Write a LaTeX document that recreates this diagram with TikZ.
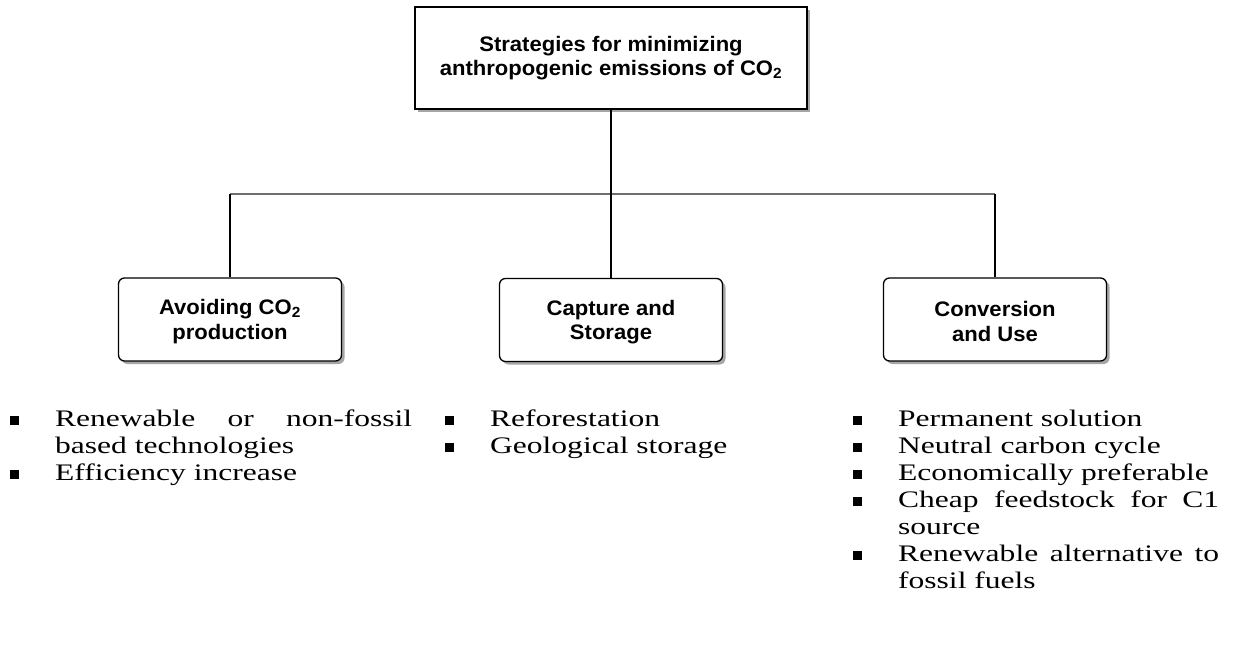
\documentclass[tikz,border=0pt]{standalone}
\usepackage{fontspec}
\setmainfont{Liberation Serif}
\newfontfamily\cslistfont[FakeStretch=1.33]{Liberation Serif}
\newfontfamily\csboxfont[FakeStretch=1.05]{Liberation Sans}
\usetikzlibrary{positioning, shadows}
\definecolor{ink}{HTML}{000000}
\definecolor{rail}{HTML}{6E6E6E}
\definecolor{shade}{HTML}{A6A6A6}
\tikzset{
  csbase/.style   = {draw=ink, line width=1.3pt, fill=white, align=center, inner sep=0pt,
                     font=\csboxfont\bfseries\fontsize{21pt}{24.5pt}\selectfont,
                     drop shadow={shadow xshift=3pt, shadow yshift=-3pt, fill=shade, opacity=1}},
  cstop/.style    = {csbase, minimum width=392pt, minimum height=102pt},
  csbranch/.style = {csbase, rounded corners=6pt, minimum width=223pt, minimum height=83pt},
  cslink/.style   = {draw=ink, line width=2pt},
  csrail/.style   = {draw=rail, line width=1.7pt},
  cslist/.style   = {anchor=north west, inner sep=0pt, align=justify,
                     font=\cslistfont\fontsize{23.7pt}{27pt}\selectfont,
                     execute at begin node={\tolerance=10000 \hyphenpenalty=10000}},
}
\newcommand{\csitem}[1]{\hangindent=45pt\hangafter=1\noindent
  \makebox[45pt][l]{\raisebox{1.5pt}{\rule{8.5pt}{8.5pt}}\rule{0pt}{20pt}}#1\par}

\begin{document}
\begin{tikzpicture}[x=1pt, y=-1pt]
\useasboundingbox (0,0) rectangle (1233,645);

\node[cstop] (top) at (611,58)
  {Strategies for minimizing\\anthropogenic emissions of CO\textsubscript{2}};

\node[csbranch] (avoid) at (230,319.5) {\rule{0pt}{19pt}Avoiding CO\textsubscript{2}\\production};
\node[csbranch] (capt)  at (611,320)   {\rule{0pt}{19pt}Capture and\\Storage};
\node[csbranch] (use)   at (995,319.5) {\rule{0pt}{19pt}Conversion\\and Use};

\coordinate (bus) at (611,194);
\draw[csrail] (avoid.north |- bus) -- (use.north |- bus);
\draw[cslink] (top.south) -- (bus);
\draw[cslink] (avoid.north |- bus) -- (avoid.north);
\draw[cslink] (bus) -- (capt.north);
\draw[cslink] (use.north |- bus) -- (use.north);

\node[cslist, text width=402pt] (lavoid) at (10,406)
  {\csitem{Renewable or non-fossil based technologies}\csitem{Efficiency increase}};
\node[cslist, text width=300pt] (lcapt) at (445,406)
  {\csitem{Reforestation}\csitem{Geological storage}};
\node[cslist, text width=366pt] (luse) at (853,406)
  {\csitem{Permanent solution}\csitem{Neutral carbon cycle}\csitem{Economically preferable}%
   \csitem{Cheap feedstock for C1 source}\csitem{Renewable alternative to fossil fuels}};
\end{tikzpicture}
\end{document}
